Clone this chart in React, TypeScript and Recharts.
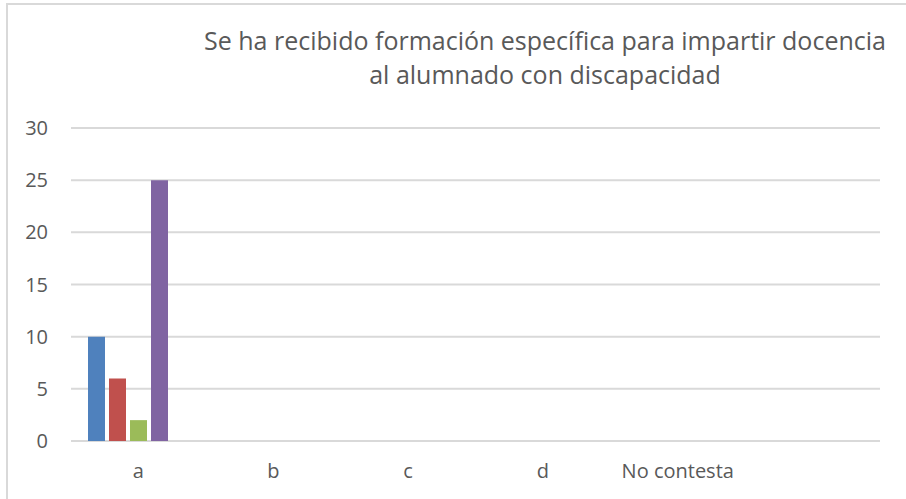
import React from 'react';
import { BarChart, Bar, XAxis, YAxis, CartesianGrid } from 'recharts';

const categories = ['a', 'b', 'c', 'd', 'No contesta', ''];
const serie1 = [10, 0, 0, 0, 0, 0];
const serie2 = [6, 0, 0, 0, 0, 0];
const serie3 = [2, 0, 0, 0, 0, 0];
const serie4 = [25, 0, 0, 0, 0, 0];
const serie5 = [0, 0, 0, 0, 0, 0];
const yTicks = [0, 5, 10, 15, 20, 25, 30];

const series = [
  { key: 'Serie1', values: serie1, color: '#4F81BD' },
  { key: 'Serie2', values: serie2, color: '#C0504D' },
  { key: 'Serie3', values: serie3, color: '#9BBB59' },
  { key: 'Serie4', values: serie4, color: '#8064A2' },
  { key: 'Serie5', values: serie5, color: '#4BACC6' },
];

const data = categories.map((name, i) => {
  const row: Record<string, string | number> = { name };
  series.forEach((s) => {
    row[s.key] = s.values[i];
  });
  return row;
});

const font = '"Open Sans", "Noto Sans", sans-serif';
const textColor = '#595959';

const App: React.FC = () => {
  return (
    <div style={{ position: 'absolute', left: 0, top: 0, width: 906, height: 499, overflow: 'hidden', background: '#fff' }}>
      <div
        style={{
          position: 'absolute',
          left: 6,
          top: 3,
          width: 1000,
          height: 1000,
          border: '2px solid #d9d9d9',
        }}
      />
      <div
        style={{
          position: 'absolute',
          left: 95,
          top: 23,
          width: 900,
          textAlign: 'center',
          fontFamily: font,
          fontSize: 25,
          lineHeight: '34px',
          color: textColor,
        }}
      >
        Se ha recibido formación específica para impartir docencia
        <br />
        al alumnado con discapacidad
      </div>
      <div style={{ position: 'absolute', left: 0, top: 0 }}>
        <BarChart
          width={906}
          height={499}
          data={data}
          margin={{ top: 128, right: 26, bottom: 28, left: 0 }}
          barSize={17}
          barGap={4}
        >
          <CartesianGrid vertical={false} stroke="#d9d9d9" strokeWidth={2} />
          <XAxis
            dataKey="name"
            axisLine={false}
            tickLine={false}
            tickSize={0}
            tickMargin={23}
            height={30}
            interval={0}
            tick={{ fill: textColor, fontSize: 20, fontFamily: font }}
          />
          <YAxis
            width={71}
            domain={[0, 30]}
            ticks={yTicks}
            axisLine={false}
            tickLine={false}
            tickSize={0}
            tickMargin={23}
            tick={{ fill: textColor, fontSize: 20, fontFamily: font }}
          />
          {series.map((s) => (
            <Bar key={s.key} dataKey={s.key} fill={s.color} isAnimationActive={false} />
          ))}
        </BarChart>
      </div>
    </div>
  );
};

export default App;
